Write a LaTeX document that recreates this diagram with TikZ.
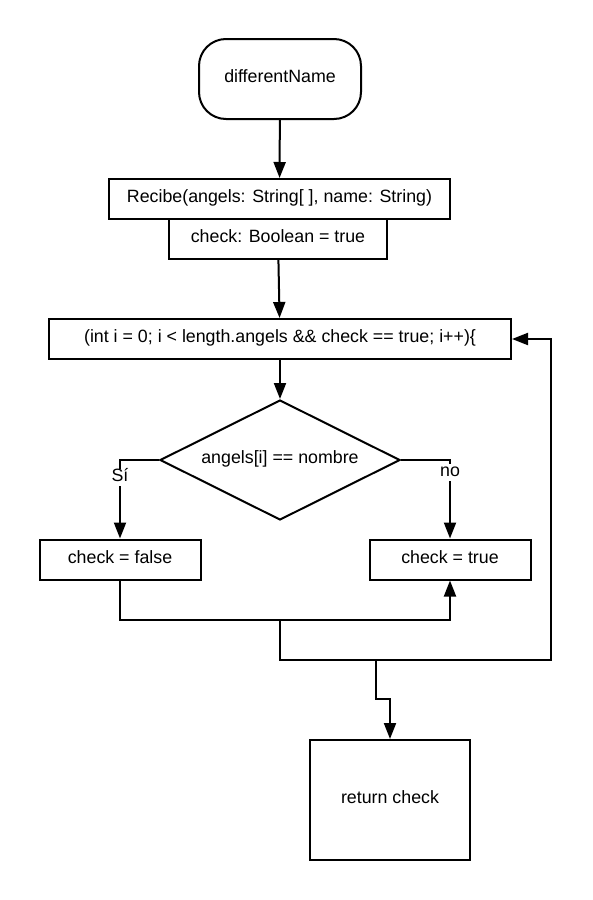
\documentclass[tikz,border=0pt]{standalone}
\usepackage{fontspec}
\setmainfont{Liberation Sans}
\usetikzlibrary{arrows.meta,shapes.geometric}
\begin{document}
\begin{tikzpicture}[x=1pt,y=-1pt,
  every node/.style={font=\fontsize{17.8}{20}\selectfont,text height=11pt,text depth=3.5pt},
  box/.style={draw,line width=2pt,rectangle,inner sep=0pt},
  terminal/.style={box,rounded corners=27pt},
  decision/.style={draw,line width=2pt,diamond,inner sep=0pt},
  wire/.style={line width=2pt},
  flow/.style={wire,-{Triangle[length=16pt,width=12pt]}},
  lbl/.style={fill=white,inner sep=1.5pt}]
\useasboundingbox (0,0) rectangle (592,900);

% process nodes
\node[terminal,minimum width=162pt,minimum height=80pt] (start) at (280,79) {differentName};
\node[box,minimum width=341pt,minimum height=40pt] (recibe) at (279.5,199) {Recibe(angels: String[ ], name: String)};
\node[box,minimum width=218pt,minimum height=40pt] (init) at (278,239) {check: Boolean = true};
\node[box,minimum width=462pt,minimum height=40pt] (loop) at (280,339) {(int i = 0; i < length.angels \&\& check == true; i++)\{};
\node[decision,minimum width=240pt,minimum height=120pt] (dec) at (280,460) {\makebox[0pt]{angels[i] == nombre}};
\node[box,minimum width=161pt,minimum height=40pt] (setfalse) at (120,559.5) {check = false};
\node[box,minimum width=161pt,minimum height=40pt] (settrue) at (450,559.5) {check = true};
\node[box,minimum width=160pt,minimum height=120pt] (ret) at (390,800) {return check};

% junction points of the routed lines
\coordinate (j1) at (280,620);
\coordinate (rt) at (551,660);
\coordinate (j2) at (376,660);
\coordinate (j3) at (376,699);

% connectors
\draw[flow] (start) -- (recibe);
\draw[flow] (init) -- (loop);
\draw[flow] (loop) -- (dec);
\draw[flow] (dec.west) -| node[lbl,pos=0.61] {Sí} (setfalse.north);
\draw[flow] (dec.east) -| node[lbl,pos=0.58] {no} (settrue.north);
\draw[flow] (setfalse.south) |- (j1) -| (settrue.south);
\draw[flow] (j1) |- (rt) |- (loop.east);
\draw[flow] (j2) -- (j3) -| (ret.north);
\end{tikzpicture}
\end{document}
